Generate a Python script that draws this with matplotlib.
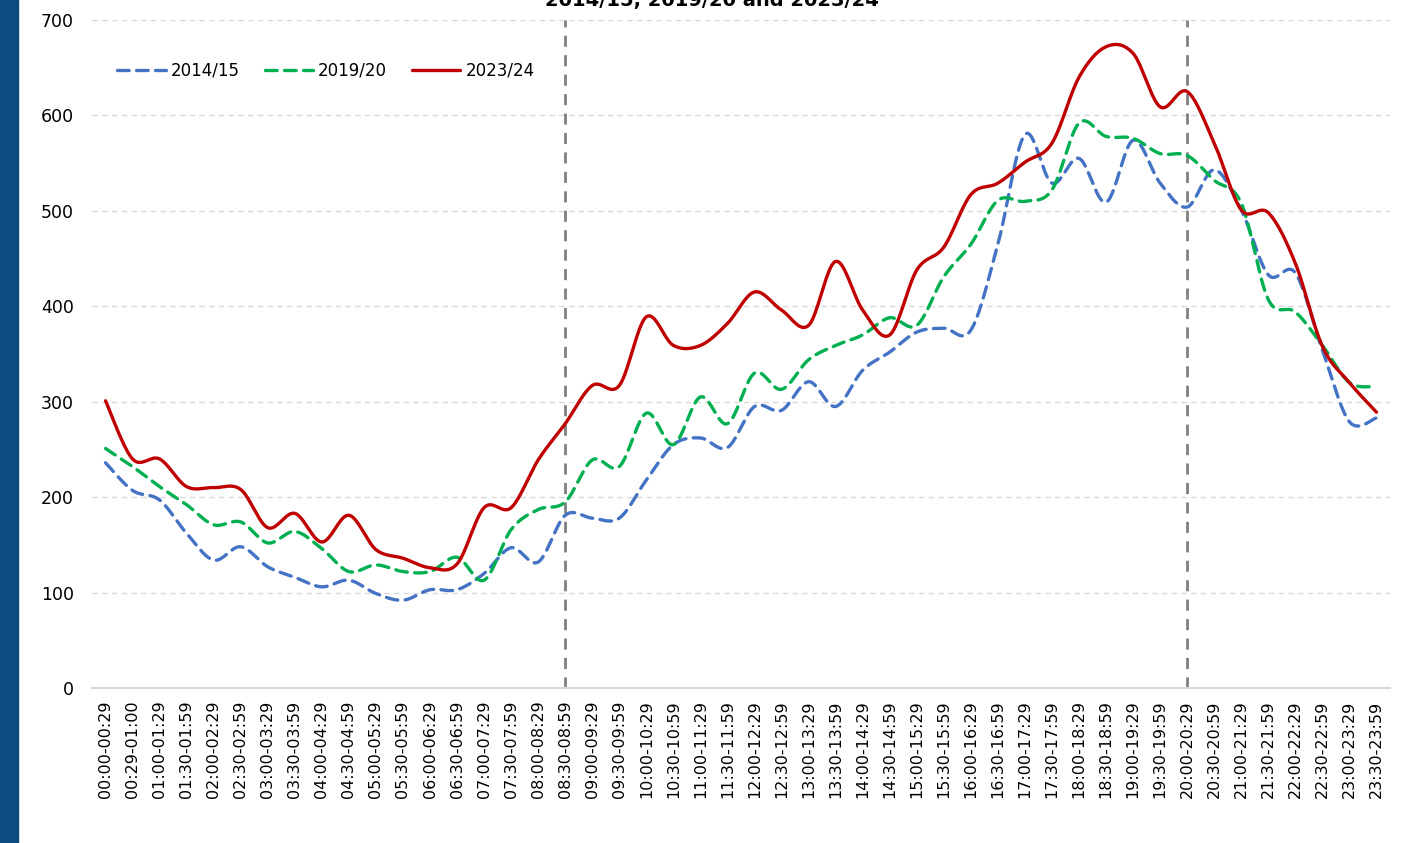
import numpy as np
import matplotlib.pyplot as plt
from matplotlib.patches import Rectangle

# half-hour slots
slots = ['00:00-00:29', '00:29-01:00', '01:00-01:29', '01:30-01:59', '02:00-02:29', '02:30-02:59',
         '03:00-03:29', '03:30-03:59', '04:00-04:29', '04:30-04:59', '05:00-05:29', '05:30-05:59',
         '06:00-06:29', '06:30-06:59', '07:00-07:29', '07:30-07:59', '08:00-08:29', '08:30-08:59',
         '09:00-09:29', '09:30-09:59', '10:00-10:29', '10:30-10:59', '11:00-11:29', '11:30-11:59',
         '12:00-12:29', '12:30-12:59', '13:00-13:29', '13:30-13:59', '14:00-14:29', '14:30-14:59',
         '15:00-15:29', '15:30-15:59', '16:00-16:29', '16:30-16:59', '17:00-17:29', '17:30-17:59',
         '18:00-18:29', '18:30-18:59', '19:00-19:29', '19:30-19:59', '20:00-20:29', '20:30-20:59',
         '21:00-21:29', '21:30-21:59', '22:00-22:29', '22:30-22:59', '23:00-23:29', '23:30-23:59']

y2014 = [236, 207, 197, 162, 134, 148, 127, 116, 106, 113, 99, 92,
         103, 103, 120, 147, 132, 181, 178, 178, 218, 255, 262, 252,
         295, 291, 321, 295, 333, 352, 373, 377, 375, 465, 580, 529,
         555, 509, 574, 529, 504, 543, 501, 433, 435, 354, 279, 283]

y2019 = [251, 232, 211, 192, 171, 174, 152, 164, 146, 122, 129, 122,
         122, 137, 113, 166, 187, 195, 239, 232, 288, 255, 305, 277,
         330, 313, 344, 359, 370, 388, 380, 431, 465, 511, 510, 522,
         592, 578, 576, 560, 558, 532, 508, 407, 394, 359, 320, 316]

y2023 = [301, 240, 240, 211, 210, 208, 168, 183, 153, 181, 145, 136,
         126, 130, 189, 189, 239, 277, 317, 317, 389, 359, 359, 382,
         415, 396, 380, 447, 396, 370, 438, 462, 517, 529, 551, 571,
         640, 672, 665, 609, 625, 571, 501, 498, 445, 358, 320, 289]

seasons = ['2014/15', '2019/20', '2023/24']
colors = ['#4472C4', '#00B050', '#C00000']
markers_at = ['08:30-08:59', '20:00-20:29']


def smooth(y, n=20):
    # catmull-rom style smoothing like excel's smoothed lines
    y = np.asarray(y, float)
    x = np.arange(len(y), dtype=float)
    px = np.concatenate([[x[0]], x, [x[-1]]])
    py = np.concatenate([[y[0]], y, [y[-1]]])
    xs, ys = [], []
    t = np.linspace(0, 1, n, endpoint=False)
    for i in range(1, len(px) - 2):
        p0, p1, p2, p3 = py[i - 1], py[i], py[i + 1], py[i + 2]
        q0, q1, q2, q3 = px[i - 1], px[i], px[i + 1], px[i + 2]
        c1y, c2y = p1 + (p2 - p0) / 6, p2 - (p3 - p1) / 6
        c1x, c2x = q1 + (q2 - q0) / 6, q2 - (q3 - q1) / 6
        b = [(1 - t) ** 3, 3 * (1 - t) ** 2 * t, 3 * (1 - t) * t ** 2, t ** 3]
        xs.append(b[0] * q1 + b[1] * c1x + b[2] * c2x + b[3] * q2)
        ys.append(b[0] * p1 + b[1] * c1y + b[2] * c2y + b[3] * p2)
    xs.append([x[-1]])
    ys.append([y[-1]])
    return np.concatenate(xs), np.concatenate(ys)


fig = plt.figure(figsize=(14.09, 8.43), dpi=100)
ax = fig.add_axes([92 / 1409, 1 - 688 / 843, (1390 - 92) / 1409, (688 - 20) / 843])

# blue strip on the left
fig.patches.append(Rectangle((0, 0), 18 / 1409, 1, transform=fig.transFigure,
                             color='#0D4A80', zorder=0))

for s, yv, c in zip(seasons, [y2014, y2019, y2023], colors):
    xs, ys = smooth(yv)
    if s == '2023/24':
        ax.plot(xs, ys, color=c, lw=2.4, label=s, zorder=4, solid_capstyle='round')
    else:
        ax.plot(xs, ys, color=c, lw=2.4, label=s, zorder=3, dashes=(3.5, 2.2),
                dash_capstyle='round')

for m in markers_at:
    ax.axvline(slots.index(m), color='#808080', lw=2, dashes=(4, 3), zorder=2)

ax.set_xlim(-0.5, len(slots) - 0.5)
ax.set_ylim(0, 700)
ax.set_yticks(range(0, 701, 100))
ax.set_xticks(range(len(slots)))
ax.set_xticklabels(slots, rotation=90, fontsize=11.5)
ax.tick_params(axis='y', labelsize=12.5, length=0, pad=13)
ax.tick_params(axis='x', length=0, pad=9)
ax.grid(axis='y', color='#D9D9D9', lw=1, dashes=(4, 3))
for sp in ['top', 'right', 'left']:
    ax.spines[sp].set_visible(False)
ax.spines['bottom'].set_color('#D9D9D9')
ax.spines['bottom'].set_linewidth(1.5)

ax.legend(loc='upper left', bbox_to_anchor=(0.008, 0.96), ncol=3, frameon=False,
          fontsize=12, handlelength=2.9, columnspacing=1.5, handletextpad=0.3)

fig.text(0.505, 1 - 6 / 843, '2014/15, 2019/20 and 2023/24', ha='center', va='baseline',
         fontsize=14, fontweight='bold')

fig.savefig('out.png', dpi=100)
